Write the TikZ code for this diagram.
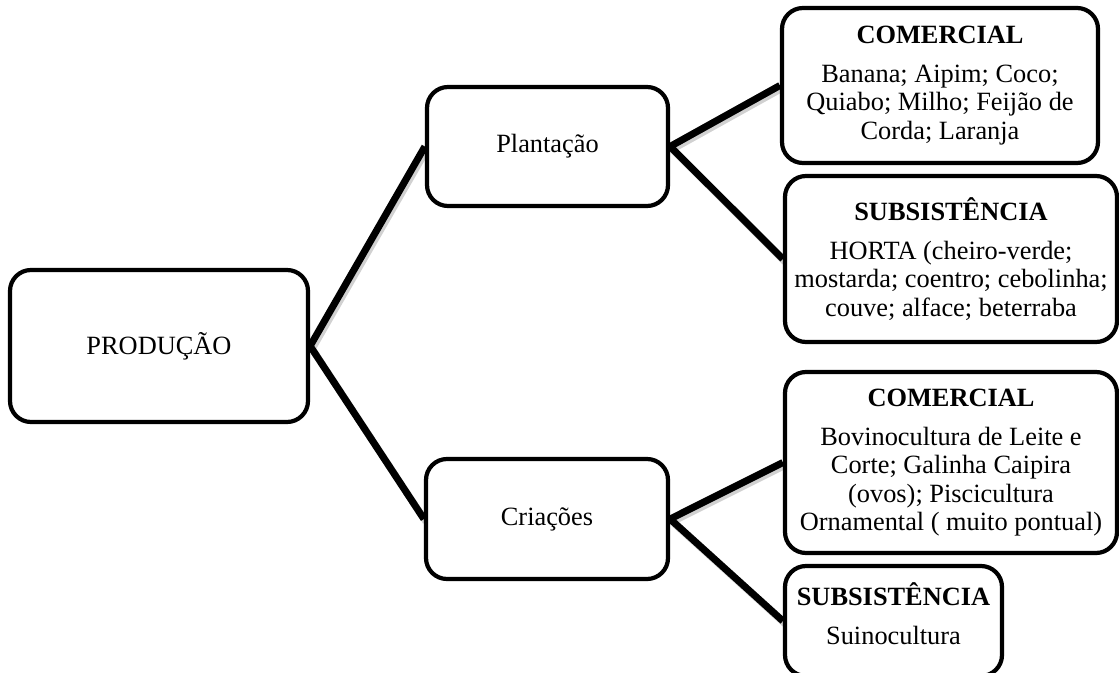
\documentclass[tikz,border=0pt]{standalone}
\usepackage{fontspec}
\setmainfont{Liberation Serif}
\usepackage{tikz}
\usetikzlibrary{backgrounds}

\tikzset{
  caixa/.style={draw, line width=2.4pt, rounded corners=0.42cm, align=center, inner sep=2pt, fill=white},
  ramo/.style={line width=4pt, preaction={draw=black!18, line width=4pt, transform canvas={shift={(1.2pt,-1.6pt)}}}}
}

\begin{document}
\begin{tikzpicture}[font=\fontsize{15}{16.2}\selectfont]
\useasboundingbox (0,0) rectangle (22.38,-13.46);

\node [caixa, minimum width=5.96cm, minimum height=3.04cm] (prod) at (3.18,-6.92) {PRODUÇÃO};

\node [caixa, minimum width=4.82cm, minimum height=2.38cm] (plant) at (10.95,-2.93) {Plantação};
\node [caixa, minimum width=4.84cm, minimum height=2.40cm] (cria) at (10.94,-10.38) {Criações};

\node [caixa, minimum width=6.32cm, minimum height=3.10cm] (com1) at (18.80,-1.71)
  {\textbf{COMERCIAL}\\[6pt] Banana; Aipim; Coco;\\ Quiabo; Milho; Feijão de\\ Corda; Laranja};
\node [caixa, minimum width=6.64cm, minimum height=3.32cm] (sub1) at (19.02,-5.18)
  {\textbf{SUBSISTÊNCIA}\\[6pt] HORTA (cheiro-verde;\\ mostarda; coentro; cebolinha;\\ couve; alface; beterraba};

\node [caixa, minimum width=6.64cm, minimum height=3.62cm] (com2) at (19.02,-9.25)
  {\textbf{COMERCIAL}\\[6pt] Bovinocultura de Leite e\\ Corte; Galinha Caipira\\ (ovos); Piscicultura\\ Ornamental ( muito pontual)};
\node [caixa, minimum width=4.34cm, minimum height=2.20cm] (sub2) at (17.87,-12.42)
  {\textbf{SUBSISTÊNCIA}\\[6pt] Suinocultura\rule[-9pt]{0pt}{9pt}};

\begin{pgfonlayer}{background}
\draw [ramo] (prod.east) -- (plant.west);
\draw [ramo] (prod.east) -- (cria.west);
\draw [ramo] (plant.east) -- (com1.west);
\draw [ramo] (plant.east) -- (sub1.west);
\draw [ramo] (cria.east) -- (com2.west);
\draw [ramo] (cria.east) -- (sub2.west);
\end{pgfonlayer}
\end{tikzpicture}
\end{document}
